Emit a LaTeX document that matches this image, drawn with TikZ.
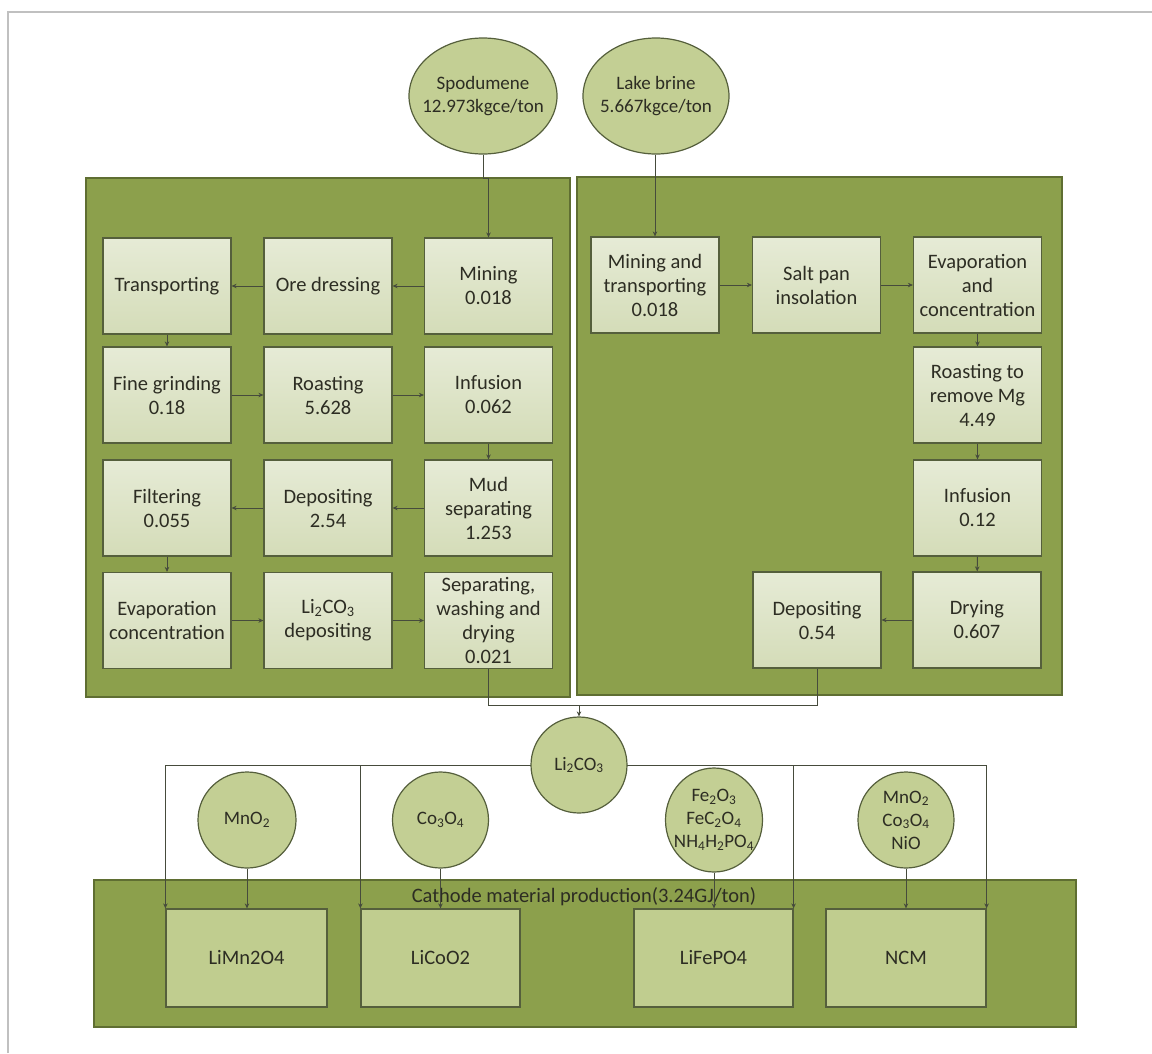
\documentclass[tikz,border=0pt]{standalone}
\usepackage{fontspec}
\setmainfont{Carlito}
\usetikzlibrary{arrows.meta,shapes.geometric}
\definecolor{panel}{RGB}{140,160,76}
\definecolor{panelborder}{RGB}{95,110,50}
\definecolor{boxtop}{RGB}{230,235,214}
\definecolor{boxbot}{RGB}{212,220,184}
\definecolor{boxborder}{RGB}{85,95,60}
\definecolor{ellfill}{RGB}{195,207,148}
\definecolor{cathfill}{RGB}{192,205,143}
\definecolor{txt}{RGB}{45,45,35}
\definecolor{framegray}{RGB}{192,192,192}
\definecolor{conn}{RGB}{70,75,60}
\begin{document}
\begin{tikzpicture}[x=1pt,y=-1pt,
  font=\fontsize{20.5}{24}\selectfont,
  panelbox/.style={draw=panelborder, line width=1.5pt, fill=panel, inner sep=0pt},
  procbox/.style={draw=boxborder, line width=1.2pt, top color=boxtop, bottom color=boxbot, minimum width=128pt, minimum height=96pt, inner sep=0pt, align=center, text=txt},
  cathbox/.style={draw=boxborder, line width=1.2pt, fill=cathfill, minimum width=160pt, minimum height=98pt, inner sep=0pt, align=center, text=txt},
  ell/.style={ellipse, draw=boxborder, line width=1.2pt, fill=ellfill, inner sep=0pt},
  elltext/.style={label={[align=center, text=txt, inner sep=0pt, font=\fontsize{19}{23}\selectfont]center:#1}},
  arr/.style={draw=conn, line width=1pt, -{Stealth[length=5pt,width=4.5pt]}},
  ln/.style={draw=conn, line width=1pt}
]
\useasboundingbox (0,0) rectangle (1152,1053);
% outer frame
\draw[framegray, line width=1.5pt] (8,1053) -- (8,12) -- (1152,12);

% panels
\node[panelbox, minimum width=484pt, minimum height=519pt] (lp) at (328,437.5) {};
\node[panelbox, minimum width=485pt, minimum height=518pt] (rp) at (819.5,436) {};
\node[panelbox, minimum width=982pt, minimum height=147pt] (cp) at (585,953.5) {};

% source ellipses
\node[ell, minimum width=148pt, minimum height=116pt, elltext={Spodumene\\12.973kgce/ton}] (sp) at (483,96) {};
\node[ell, minimum width=146pt, minimum height=116pt, elltext={Lake brine\\5.667kgce/ton}] (lb) at (656,96) {};

% left panel boxes
\node[procbox] (mine) at (488.5,286) {Mining\\0.018};
\node[procbox] (ore)  at (328,286) {Ore dressing};
\node[procbox] (tra)  at (167,286) {Transporting};
\node[procbox] (fine) at (167,395) {Fine grinding\\0.18};
\node[procbox] (roa)  at (328,395) {Roasting\\5.628};
\node[procbox] (inf)  at (488.5,395) {Infusion\\0.062};
\node[procbox] (mud)  at (488.5,508) {Mud\\separating\\1.253};
\node[procbox] (dep)  at (328,508) {Depositing\\2.54};
\node[procbox] (fil)  at (167,508) {Filtering\\0.055};
\node[procbox] (eva)  at (167,620.5) {Evaporation\\concentration};
\node[procbox] (lid)  at (328,620.5) {Li\textsubscript{2}CO\textsubscript{3}\\depositing};
\node[procbox] (sep)  at (488.5,620.5) {Separating,\\washing and\\drying\\0.021};

% right panel boxes
\node[procbox] (mt)   at (655,285) {Mining and\\transporting\\0.018};
\node[procbox] (salt) at (816.5,285) {Salt pan\\insolation};
\node[procbox] (evc)  at (977.5,285) {Evaporation\\and\\concentration};
\node[procbox] (rmg)  at (977.5,395) {Roasting to\\remove Mg\\4.49};
\node[procbox] (inf2) at (977.5,508) {Infusion\\0.12};
\node[procbox] (dry)  at (977,620) {Drying\\0.607};
\node[procbox] (dep2) at (817,620) {Depositing\\0.54};

% Li2CO3
\coordinate (j) at (579,705);
\draw[ln] (166,765) -- (986,765);
\node[ell, minimum width=96pt, minimum height=96pt, elltext={Li\textsubscript{2}CO\textsubscript{3}}] (li) at (579,765) {};

% reagent ellipses
\node[ell, minimum width=98pt, minimum height=96pt, elltext={MnO\textsubscript{2}}] (mno) at (247,820) {};
\node[ell, minimum width=96pt, minimum height=96pt, elltext={Co\textsubscript{3}O\textsubscript{4}}] (coo) at (440.5,820) {};
\node[ell, minimum width=97pt, minimum height=104pt, elltext={Fe\textsubscript{2}O\textsubscript{3}\\FeC\textsubscript{2}O\textsubscript{4}\\NH\textsubscript{4}H\textsubscript{2}PO\textsubscript{4}}] (fe) at (714,820) {};
\node[ell, minimum width=96pt, minimum height=96pt, elltext={MnO\textsubscript{2}\\Co\textsubscript{3}O\textsubscript{4}\\NiO}] (ncmr) at (906,820) {};

% cathode label and boxes
\node[text=txt, inner sep=0pt] (clab) at (584,897) {Cathode material production(3.24GJ/ton)};
\node[cathbox, minimum width=161pt] (lmo) at (246.5,958) {LiMn2O4};
\node[cathbox, minimum width=159pt] (lco) at (440.5,958) {LiCoO2};
\node[cathbox, minimum width=159pt] (lfp) at (713.5,958) {LiFePO4};
\node[cathbox, minimum width=160pt] (ncm) at (906,958) {NCM};

% connectors: sources
\coordinate (spj) at (483,178);
\draw[ln] (sp.south) -- (spj);
\draw[arr] (spj) -| (mine.north);
\draw[arr] (lb.south -| mt.north) -- (mt.north);

% left chain
\draw[arr] (mine) -- (ore);
\draw[arr] (ore) -- (tra);
\draw[arr] (tra) -- (fine);
\draw[arr] (fine) -- (roa);
\draw[arr] (roa) -- (inf);
\draw[arr] (inf) -- (mud);
\draw[arr] (mud) -- (dep);
\draw[arr] (dep) -- (fil);
\draw[arr] (fil) -- (eva);
\draw[arr] (eva) -- (lid);
\draw[arr] (lid) -- (sep);

% right chain
\draw[arr] (mt) -- (salt);
\draw[arr] (salt) -- (evc);
\draw[arr] (evc) -- (rmg);
\draw[arr] (rmg) -- (inf2);
\draw[arr] (inf2) -- (dry);
\draw[arr] (dry) -- (dep2);

% to Li2CO3
\draw[ln] (sep.south) |- (j);
\draw[ln] (dep2.south) |- (j);
\draw[arr] (j) -- (li.north);

% Li2CO3 distribution
\draw[arr] (li.west) -| (lmo.north west);
\draw[arr] (li.west) -| (lco.north west);
\draw[arr] (li.east) -| (lfp.north east);
\draw[arr] (li.east) -| (ncm.north east);

% reagents to cathode boxes
\draw[arr] (mno.south) -- (mno.south |- lmo.north);
\draw[arr] (coo.south) -- (coo.south |- lco.north);
\draw[arr] (fe.south) -- (fe.south |- lfp.north);
\draw[arr] (ncmr.south) -- (ncmr.south |- ncm.north);
\end{tikzpicture}
\end{document}
